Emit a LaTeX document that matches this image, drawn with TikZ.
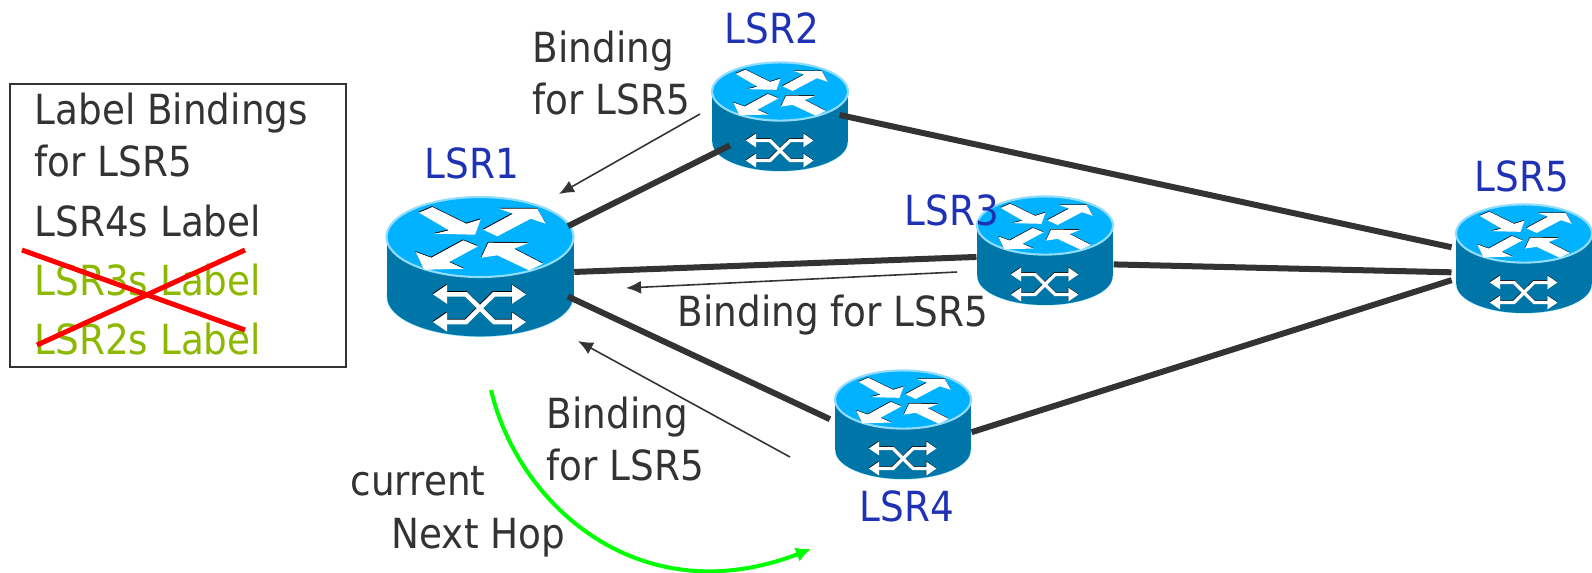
\documentclass[tikz,border=0pt]{standalone}
\usepackage{fontspec}
\setmainfont[FakeStretch=0.9]{DejaVu Sans}
\definecolor{routertop}{HTML}{00B2FF}
\definecolor{routerside}{HTML}{0075A8}
\definecolor{routeredge}{HTML}{8FDCFF}
\definecolor{textdark}{HTML}{333333}
\definecolor{lsrblue}{HTML}{1F32B4}
\definecolor{staleolive}{HTML}{8CB800}
\tikzset{
  lsrname/.style={inner sep=0pt, anchor=base west, text=lsrblue, font=\fontsize{11.8}{14.7}\selectfont},
  note/.style={inner sep=0pt, anchor=base west, align=left, text=textdark, font=\fontsize{11.8}{14.7}\selectfont},
  stale/.style={note, text=staleolive},
  link/.style={color=textdark, line width=0.06cm},
  advert/.style={color=textdark, line width=0.45pt, -{Latex[length=0.15cm, width=0.13cm]}},
  routerspot/.style={inner sep=0pt, minimum width=1.87cm, minimum height=1.4cm, transform shape}
}
\usetikzlibrary{arrows.meta}
\newcommand{\routerarrows}[1]{
\fill [#1] (-61,-24.3) -- (-47.7,-30) -- (-13.7,-13.3) -- (0.7,-17.7) -- (-5,-2.3) -- (-45.3,-3.3) -- (-31,-6.7) -- cycle;
\fill [#1] (3.3,-7.3) -- (33,-23.3) -- (19,-28.3) -- (57.3,-28.3) -- (65.7,-13.3) -- (50.7,-18.3) -- (17.3,-0.7) -- cycle;
\fill [#1] (-16.7,3.3) -- (-2,9.3) -- (-31,25) -- (-16,31.7) -- (-56,32.7) -- (-64.3,15) -- (-48.7,20.7) -- cycle;
\fill [#1] (63,26.7) -- (49,33.3) -- (17.3,18.3) -- (1.3,20.7) -- (8.3,5.7) -- (48.3,6) -- (34,11.7) -- cycle;
}
\newcommand{\routerswitch}[2]{
\draw [#1, line width=#2*1.3pt] (-35,57.3) -- (-14,57.3) -- (14,85) -- (35,85);
\draw [#1, line width=#2*1.3pt] (-35,85) -- (-14,85) -- (14,57.3) -- (35,57.3);
\foreach \py in {57.3,85} {
\fill [#1] (-47,\py) -- (-33,\py-9.5) -- (-33,\py+9.5) -- cycle;
\fill [#1] (46,\py) -- (32,\py-9.5) -- (32,\py+9.5) -- cycle;
}
}
\newcommand{\router}[5]{
\begin{scope}[shift={(#2,#3)}, scale=#4]
\fill [routeredge] (0,60+#5) ellipse [x radius=93.5, y radius=40];
\fill [routerside] (0,60+#5) ellipse [x radius=92.8, y radius=39.3];
\fill [routerside] (-93.5,0) rectangle (93.5,60+#5);
\fill [routertop, draw=routeredge, line width=0.6pt] (0,0) ellipse [x radius=93.5, y radius=40];
\begin{scope}[shift={(-0.4,-0.9)}]
\routerarrows{black}
\end{scope}
\routerarrows{white}
\begin{scope}[shift={(-0.4,#5-0.9)}]
\routerswitch{black}{#4}
\end{scope}
\begin{scope}[shift={(0,#5)}]
\routerswitch{white}{#4}
\end{scope}
\node [routerspot] (#1) at (0,30) {};
\end{scope}
}
\begin{document}
\begin{tikzpicture}[x=0.01cm, y=-0.01cm]
\useasboundingbox (0,0) rectangle (1592,572);
\router{lsr1}{480}{237}{1}{0}
\router{lsr2}{780}{91.5}{0.727}{10}
\router{lsr3}{1045}{225.5}{0.727}{10}
\router{lsr4}{903}{399.5}{0.727}{10}
\router{lsr5}{1524}{233.5}{0.727}{10}
\draw [link, shorten <=-0.07cm] (lsr1.25) -- ([shift={(-50,32)}]lsr2.center);
\draw [link] (lsr1.-3) -- (lsr3.188);
\draw [link, shorten <=-0.07cm, shorten >=0.05cm] (lsr1.-19) -- (lsr4.west);
\draw [link, shorten <=-0.09cm, shorten >=0.04cm] (lsr2.-3) -- (lsr5.174);
\draw [link, shorten >=0.04cm] (lsr3.-14) -- (lsr5.194);
\draw [link, shorten >=0.04cm] (lsr4.-9) -- (lsr5.199);
\node [lsrname] (lsr1name) at (424,178) {LSR1};
\node [lsrname] (lsr2name) at (724,43) {LSR2};
\node [lsrname] (lsr3name) at (904,225) {LSR3};
\node [lsrname] (lsr4name) at (859,521) {LSR4};
\node [lsrname] (lsr5name) at (1474,191) {LSR5};
\coordinate (from2) at (700,114);
\coordinate (to2) at (559,194);
\coordinate (from3) at (957,272);
\coordinate (to3) at (626,288);
\coordinate (from4) at (790,457);
\coordinate (to4) at (578,341);
\draw [advert] (from2) -- (to2);
\draw [advert] (from3) -- (to3);
\draw [advert] (from4) -- (to4);
\node [note] (binding2) at (532,114) {Binding\\for LSR5};
\node [note] (binding3) at (677,326) {Binding for LSR5};
\node [note] (binding4) at (546,480) {Binding\\for LSR5};
\node [note] (current) at (350,495) {current};
\node [note] (nexthop) at (391,548) {Next Hop};
\coordinate (hopstart) at (491,390);
\coordinate (hopend) at (811,549);
\draw [color=green, line width=0.04cm, -{Latex[length=0.15cm, width=0.15cm]}] (hopstart) .. controls (518,505) and (640,615) .. (hopend);
\node [draw=textdark, line width=0.55pt, minimum width=3.36cm, minimum height=2.83cm, inner sep=0pt] (legend) at (178,225.5) {};
\node [note] (legendtitle) at (34,176) {Label Bindings\\for LSR5};
\node [note] (legend4) at (34,236) {LSR4s Label};
\node [stale] (legend3) at (34,295) {LSR3s Label};
\node [stale] (legend2) at (34,354) {LSR2s Label};
\coordinate (crossa) at (22,250);
\coordinate (crossb) at (245,330);
\coordinate (crossc) at (37,345);
\coordinate (crossd) at (245,250);
\draw [color=red, line width=0.05cm] (crossa) -- (crossb);
\draw [color=red, line width=0.05cm] (crossc) -- (crossd);
\end{tikzpicture}
\end{document}
